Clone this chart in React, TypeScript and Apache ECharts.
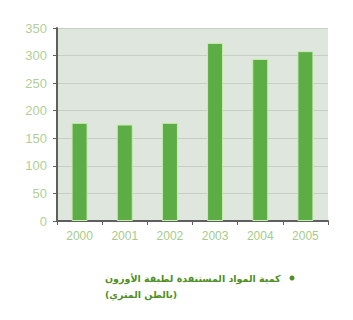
import React, { useEffect, useRef } from "react";
import * as echarts from "echarts";

// Years on the category axis
const years = ["2000", "2001", "2002", "2003", "2004", "2005"];
// Quantity of ozone-depleting substances per year
const quantities = [178, 175, 178, 323, 294, 308];
// Value axis range
const yMin = 0;
const yMax = 350;
const yStep = 50;
// Legend caption (two lines)
const legendLine1 = "كمية المواد المستنفدة لطبقة الأوزون";
const legendLine2 = "(بالطن المتري)";

export default function App() {
  const ref = useRef<HTMLDivElement>(null);

  useEffect(() => {
    if (!ref.current) return;
    const chart = echarts.init(ref.current, null, { renderer: "svg" });
    chart.setOption({
      animation: false,
      backgroundColor: "#ffffff",
      grid: {
        left: 49,
        right: 17,
        top: 20,
        bottom: 91,
        show: true,
        backgroundColor: "#dfe6de",
        borderWidth: 0,
      },
      xAxis: {
        type: "category",
        data: years,
        axisLine: { show: true, lineStyle: { color: "#5f5f5f", width: 2 } },
        axisTick: { show: true, length: 4, lineStyle: { color: "#5f5f5f" } },
        axisLabel: {
          color: "#a6cc8a",
          fontSize: 12,
          fontFamily: "Liberation Sans",
          margin: 9,
        },
      },
      yAxis: {
        type: "value",
        min: yMin,
        max: yMax,
        interval: yStep,
        axisLine: { show: true, lineStyle: { color: "#5f5f5f", width: 2 } },
        axisTick: { show: true, length: 4, lineStyle: { color: "#5f5f5f" } },
        axisLabel: {
          color: "#b0cf98",
          fontSize: 13,
          fontFamily: "Liberation Sans",
          margin: 10,
        },
        splitLine: { show: true, lineStyle: { color: "#c6cec5", width: 1 } },
      },
      series: [
        {
          type: "bar",
          name: legendLine1,
          data: quantities,
          barWidth: 16,
          itemStyle: {
            color: "#5cad45",
            borderColor: "#c9eeae",
            borderWidth: 1,
          },
        },
      ],
      graphic: [
        {
          type: "text",
          left: 97,
          top: 265,
          style: {
            text: legendLine1,
            fill: "#4f8f26",
            font: "bold 9.5px 'DejaVu Sans'",
          },
        },
        {
          type: "text",
          left: 97,
          top: 281,
          style: {
            text: legendLine2,
            fill: "#4f8f26",
            font: "bold 9.5px 'DejaVu Sans'",
          },
        },
        {
          type: "circle",
          shape: { cx: 284, cy: 270, r: 2.5 },
          style: { fill: "#4f8f26" },
        },
      ],
    });
    return () => chart.dispose();
  }, []);

  return <div ref={ref} style={{ width: 337, height: 304 }} />;
}
